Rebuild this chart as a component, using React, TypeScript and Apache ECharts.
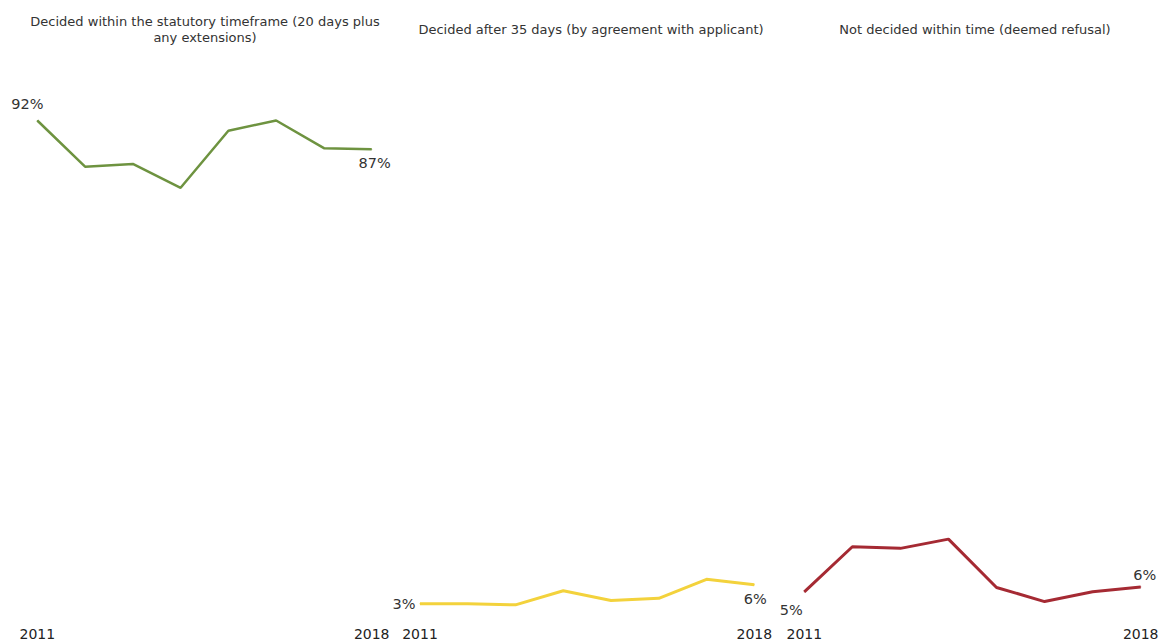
import React, { useEffect, useRef } from "react";
import * as echarts from "echarts";

const years = ["2011", "2012", "2013", "2014", "2015", "2016", "2017", "2018"];
const withinTime = [91.9, 83.4, 83.9, 79.5, 90.0, 91.9, 86.8, 86.6];
const afterAgreement = [2.9, 2.9, 2.7, 5.3, 3.5, 3.9, 7.4, 6.4];
const notDecided = [5.1, 13.4, 13.1, 14.8, 5.9, 3.3, 5.1, 6.0];
const titles = [
  "Decided within the statutory timeframe (20 days plus\nany extensions)",
  "Decided after 35 days (by agreement with applicant)",
  "Not decided within time (deemed refusal)",
];
const colors = ["#6e9340", "#f3d23c", "#a52a33"];

export default function App() {
  const ref = useRef<HTMLDivElement>(null);
  useEffect(() => {
    if (!ref.current) return;
    const chart = echarts.init(ref.current, null, { renderer: "svg" });
    const grids = [
      { left: 37.3, right: 1169 - 371.7 },
      { left: 420, right: 1169 - 754.3 },
      { left: 804.3, right: 1169 - 1140.7 },
    ].map((g) => ({ ...g, top: 76.5, bottom: 24.5 }));
    const centers = [200, 586, 970];
    const seriesData = [withinTime, afterAgreement, notDecided];
    const offsets = [
      [[-10, -16], [3, 14]],
      [[-16, 0], [1, 14]],
      [[-13, 18], [4, -12]],
    ];
    const font = "'DejaVu Sans', sans-serif";
    chart.setOption({
      animation: false,
      backgroundColor: "#ffffff",
      title: titles.map((t, i) => ({
        text: t,
        left: centers[i],
        top: i === 0 ? 8 : 16,
        textAlign: "center",
        textStyle: {
          fontSize: 13,
          fontWeight: "normal",
          color: "#333",
          fontFamily: font,
          lineHeight: 16,
        },
      })),
      grid: grids,
      xAxis: grids.map((_, i) => ({
        type: "category",
        gridIndex: i,
        data: years,
        boundaryGap: false,
        axisLine: { show: false },
        axisTick: { show: false },
        splitLine: { show: false },
        axisLabel: {
          interval: (idx: number) => idx === 0 || idx === years.length - 1,
          color: "#222",
          fontSize: 14,
          fontFamily: font,
          margin: 7,
        },
      })),
      yAxis: grids.map((_, i) => ({
        type: "value",
        gridIndex: i,
        min: 0,
        max: 100,
        show: false,
      })),
      series: seriesData.map((arr, i) => ({
        type: "line",
        xAxisIndex: i,
        yAxisIndex: i,
        symbol: "circle",
        symbolSize: 1,
        showSymbol: true,
        lineStyle: { color: colors[i], width: i === 0 ? 2.5 : 3 },
        itemStyle: { color: colors[i] },
        data: arr.map((v, j) => {
          const isEnd = j === 0 || j === arr.length - 1;
          const off = j === 0 ? offsets[i][0] : offsets[i][1];
          return {
            value: v,
            label: {
              show: isEnd,
              position: "inside",
              offset: off,
              align: "center",
              verticalAlign: "middle",
              formatter: (p: any) => Math.round(p.value) + "%",
              color: "#333",
              fontSize: 14.5,
              fontFamily: font,
            },
          };
        }),
      })),
    });
    return () => chart.dispose();
  }, []);
  return (
    <div
      ref={ref}
      style={{ position: "absolute", left: 0, top: 0, width: 1169, height: 644 }}
    />
  );
}
